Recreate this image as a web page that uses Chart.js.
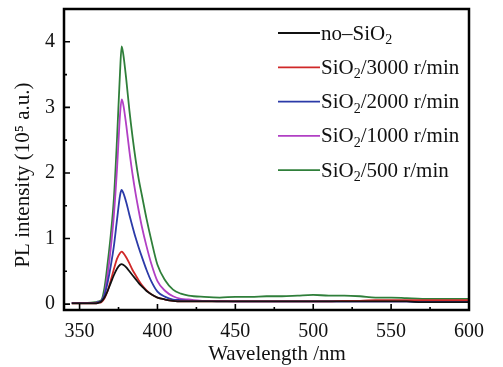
<!DOCTYPE html>
<html>
<head>
<meta charset="utf-8">
<script src="https://cdn.jsdelivr.net/npm/chart.js@4.4.0/dist/chart.umd.min.js"></script>
<style>
  html, body { margin: 0; padding: 0; background: #fff; }
  #wrap { width: 503px; height: 367px; }
</style>
</head>
<body>
<div id="wrap"><canvas id="plChart" width="503" height="367"></canvas></div>
<script>
// PL spectra, intensity in 10^5 a.u.
const wavelengths = [345, 350, 355, 360, 362, 364, 366, 368, 370, 372, 374, 376, 377, 378, 380, 382, 384, 386, 388, 390, 393, 396, 400, 405, 410, 415, 420,
  430, 440, 450, 460, 470, 480, 490, 500, 510, 520, 530, 540, 550, 560, 570, 580, 590, 600];

const noSiO2 = [0.01, 0.01, 0.01, 0.01, 0.02, 0.04, 0.10, 0.20, 0.32, 0.44, 0.54, 0.60, 0.61, 0.60, 0.56, 0.50, 0.44, 0.38, 0.32, 0.27, 0.20, 0.15, 0.10, 0.07, 0.05, 0.04, 0.04,
  0.04, 0.04, 0.04, 0.04, 0.04, 0.04, 0.04, 0.04, 0.04, 0.04, 0.04, 0.04, 0.04, 0.04, 0.03, 0.03, 0.03, 0.03];
const sio2_3000 = [0.01, 0.01, 0.01, 0.01, 0.02, 0.03, 0.09, 0.20, 0.36, 0.53, 0.69, 0.78, 0.80, 0.78, 0.71, 0.62, 0.52, 0.44, 0.36, 0.29, 0.21, 0.15, 0.10, 0.07, 0.05, 0.04, 0.04,
  0.04, 0.04, 0.04, 0.04, 0.04, 0.04, 0.04, 0.04, 0.04, 0.05, 0.05, 0.06, 0.06, 0.06, 0.06, 0.06, 0.06, 0.06];
const sio2_2000 = [0.02, 0.02, 0.02, 0.02, 0.03, 0.05, 0.14, 0.33, 0.58, 0.88, 1.28, 1.66, 1.74, 1.70, 1.55, 1.36, 1.18, 1.01, 0.86, 0.72, 0.52, 0.35, 0.19, 0.11, 0.07, 0.06, 0.05,
  0.05, 0.04, 0.04, 0.04, 0.04, 0.04, 0.04, 0.04, 0.04, 0.04, 0.04, 0.04, 0.04, 0.04, 0.03, 0.03, 0.03, 0.03];
const sio2_1000 = [0.02, 0.02, 0.02, 0.02, 0.03, 0.05, 0.15, 0.45, 0.85, 1.35, 2.05, 2.90, 3.12, 3.05, 2.72, 2.33, 1.98, 1.68, 1.42, 1.18, 0.88, 0.62, 0.35, 0.20, 0.12, 0.08, 0.07,
  0.05, 0.05, 0.04, 0.04, 0.04, 0.04, 0.04, 0.04, 0.04, 0.04, 0.04, 0.04, 0.04, 0.04, 0.04, 0.04, 0.05, 0.05];
const sio2_500 = [0.02, 0.02, 0.02, 0.03, 0.04, 0.06, 0.25, 0.62, 1.05, 1.60, 2.50, 3.55, 3.93, 3.82, 3.42, 2.95, 2.55, 2.20, 1.90, 1.66, 1.30, 0.98, 0.60, 0.36, 0.22, 0.16, 0.13,
  0.11, 0.10, 0.11, 0.11, 0.12, 0.12, 0.13, 0.14, 0.13, 0.13, 0.12, 0.10, 0.10, 0.09, 0.08, 0.08, 0.08, 0.08];

const seriesNames = ['no–SiO₂', 'SiO₂/3000 r/min', 'SiO₂/2000 r/min', 'SiO₂/1000 r/min', 'SiO₂/500 r/min'];
const seriesColors = ['#111111', '#d02828', '#2b3aa8', '#b13fc4', '#2f7f3a'];
const seriesValues = [noSiO2, sio2_3000, sio2_2000, sio2_1000, sio2_500];

const xTicks = [350, 400, 450, 500, 550, 600];
const xMinorTicks = [375, 425, 475, 525, 575];
const yTicks = [0, 1, 2, 3, 4];
const yMinorTicks = [0.5, 1.5, 2.5, 3.5];
const xTitle = 'Wavelength /nm';
const yTitle = 'PL intensity (10⁵ a.u.)';

const FONT = '"Liberation Serif", "Times New Roman", serif';

// draw text, rendering ₂ as a real lowered small 2
function drawSubText(ctx, text, x, y, size) {
  let cx = x;
  for (const part of text.split(/(₂)/)) {
    if (!part) continue;
    if (part === '₂') {
      ctx.font = `${Math.round(size * 0.68)}px ${FONT}`;
      ctx.fillText('2', cx, y + size * 0.3);
      cx += ctx.measureText('2').width;
    } else {
      ctx.font = `${size}px ${FONT}`;
      ctx.fillText(part, cx, y);
      cx += ctx.measureText(part).width;
    }
  }
}

const framePlugin = {
  id: 'frame',
  afterDraw(chart) {
    const { ctx, chartArea: a, scales } = chart;
    const xs = scales.x, ys = scales.y;
    ctx.save();
    ctx.strokeStyle = '#000';
    ctx.lineWidth = 2.5;
    ctx.strokeRect(a.left, a.top, a.right - a.left, a.bottom - a.top);

    // inward ticks on bottom and left
    ctx.lineWidth = 1.6;
    ctx.beginPath();
    xTicks.forEach(v => { const px = xs.getPixelForValue(v); ctx.moveTo(px, a.bottom); ctx.lineTo(px, a.bottom - 6); });
    xMinorTicks.forEach(v => { const px = xs.getPixelForValue(v); ctx.moveTo(px, a.bottom); ctx.lineTo(px, a.bottom - 3); });
    yTicks.forEach(v => { const py = ys.getPixelForValue(v); ctx.moveTo(a.left, py); ctx.lineTo(a.left + 6, py); });
    yMinorTicks.forEach(v => { const py = ys.getPixelForValue(v); ctx.moveTo(a.left, py); ctx.lineTo(a.left + 3, py); });
    ctx.stroke();

    // axis titles
    ctx.fillStyle = '#111';
    ctx.font = `21px ${FONT}`;
    ctx.textAlign = 'center';
    ctx.textBaseline = 'middle';
    ctx.fillText(xTitle, 277, 354);
    ctx.save();
    ctx.translate(23, 175);
    ctx.rotate(-Math.PI / 2);
    ctx.font = `21px ${FONT}`;
    ctx.fillText(yTitle, 0, 0);
    ctx.restore();

    // legend
    ctx.textAlign = 'left';
    ctx.textBaseline = 'middle';
    seriesNames.forEach((name, i) => {
      const y = 33 + i * 34.3;
      ctx.strokeStyle = seriesColors[i];
      ctx.lineWidth = 1.8;
      ctx.beginPath();
      ctx.moveTo(278, y);
      ctx.lineTo(320, y);
      ctx.stroke();
      ctx.fillStyle = '#111';
      drawSubText(ctx, name, 321, y + 1, 21);
    });
    ctx.restore();
  }
};

new Chart(document.getElementById('plChart'), {
  type: 'line',
  data: {
    datasets: seriesValues.map((vals, i) => ({
      label: seriesNames[i],
      data: wavelengths.map((w, j) => ({ x: w, y: vals[j] })),
      borderColor: seriesColors[i],
      borderWidth: 1.8,
      pointRadius: 0,
      cubicInterpolationMode: 'monotone',
      fill: false
    }))
  },
  options: {
    responsive: false,
    animation: false,
    layout: { padding: { top: 9, right: 34, left: 0, bottom: 0 } },
    plugins: { legend: { display: false }, tooltip: { enabled: false } },
    scales: {
      x: {
        type: 'linear',
        min: 340,
        max: 600,
        grid: { display: false, drawTicks: false },
        border: { display: false },
        afterBuildTicks: s => { s.ticks = xTicks.map(v => ({ value: v })); },
        afterFit: s => { s.height = 57; s.paddingLeft = 0; s.paddingRight = 0; },
        ticks: { color: '#111', padding: 10, maxRotation: 0, font: { family: FONT, size: 20 } }
      },
      y: {
        min: -0.09,
        max: 4.5,
        grid: { display: false, drawTicks: false },
        border: { display: false },
        afterBuildTicks: s => { s.ticks = yTicks.map(v => ({ value: v })); },
        afterFit: s => { s.width = 64; s.paddingTop = 0; s.paddingBottom = 0; },
        ticks: { color: '#111', padding: 9, font: { family: FONT, size: 20 } }
      }
    }
  },
  plugins: [framePlugin]
});
</script>
</body>
</html>
